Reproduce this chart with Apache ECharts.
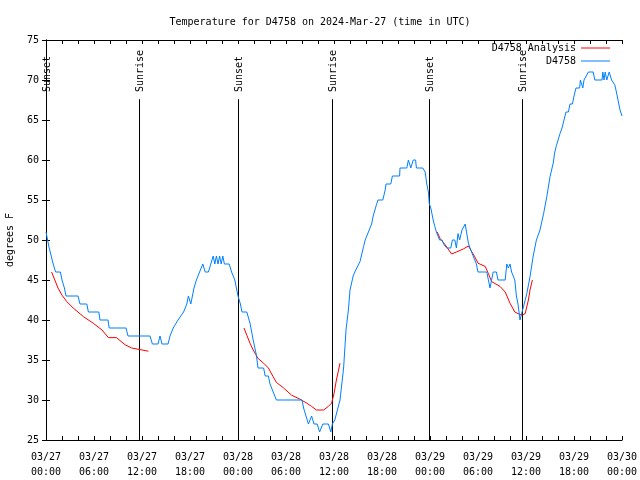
<!DOCTYPE html>
<html>
<head>
<meta charset="utf-8">
<script src="https://cdn.jsdelivr.net/npm/echarts@6/dist/echarts.min.js"></script>
<style>html,body{margin:0;padding:0;background:#fff}#c{width:640px;height:480px}</style>
</head>
<body>
<div id="c"></div>
<script>
// ---- data ----
var xTickLabels = ['03/27\n00:00','03/27\n06:00','03/27\n12:00','03/27\n18:00','03/28\n00:00','03/28\n06:00','03/28\n12:00','03/28\n18:00','03/29\n00:00','03/29\n06:00','03/29\n12:00','03/29\n18:00','03/30\n00:00'];
var eventHours = [0, 11.65, 24.0, 35.7, 47.9, 59.5];
var eventNames = ['Sunset','Sunrise','Sunset','Sunrise','Sunset','Sunrise'];

// D4758 observations: hours since 03/27 00:00 UTC, temperature (F)
var obsHours = [0,0.4,0.9,1.2,1.8,2.0,2.3,2.5,4.0,4.25,5.1,5.3,6.6,6.75,7.75,7.9,10.0,10.25,13.0,13.3,14.0,14.25,14.5,15.25,15.5,15.9,16.5,17.2,17.6,17.8,18.1,18.5,18.8,19.2,19.6,19.9,20.3,20.6,20.9,21.1,21.3,21.5,21.7,21.9,22.1,22.3,22.9,23.2,23.6,23.8,24.0,24.3,24.5,25.1,25.5,25.9,26.3,26.5,27.2,27.4,27.8,28.0,28.4,28.8,32.0,32.2,32.5,32.8,33.0,33.2,33.5,33.9,34.2,34.4,34.6,35.3,35.6,35.8,36.1,36.75,37.2,37.5,37.8,38.0,38.4,38.6,39.25,39.7,39.9,40.3,40.7,40.9,41.3,41.5,42.1,42.4,42.5,43.1,43.3,44.2,44.25,45.1,45.3,45.6,45.9,46.2,46.3,47.1,47.4,47.6,47.8,47.9,48.1,48.4,48.6,48.8,49.2,49.5,49.75,50.1,50.6,50.8,51.1,51.3,51.5,51.7,52.0,52.4,52.6,52.8,53.0,53.4,53.8,54.0,55.1,55.3,55.5,55.7,55.9,56.3,56.5,57.4,57.6,57.8,58.0,58.2,58.6,58.8,59.0,59.25,59.5,59.7,60.1,60.5,60.9,61.3,61.75,62.2,62.6,63.0,63.4,63.6,63.8,64.25,64.5,64.75,65.0,65.3,65.5,65.8,66.0,66.25,66.7,66.8,67.1,67.25,67.5,67.8,68.4,68.6,69.5,69.6,69.75,69.9,70.1,70.4,70.7,71.1,71.3,71.5,71.75,72.0];
var obsTemps = [51,49,47,46,46,45,44,43,43,42,42,41,41,40,40,39,39,38,38,37,37,38,37,37,38,39,40,41,42,43,42,44,45,46,47,46,46,47,48,47,48,47,48,47,48,47,47,46,45,44,43,42,41,41,39.6,37.5,35.6,34,34,33,33,32,31,30,30,29,28,27,27,28,27,27,26,26,27,27,26,27,27.5,30,34,38.75,41.25,43.75,45.5,46,47.3,49.2,50,51,52,53,54.4,55,55,56.25,57,57,58,58,59,59,60,59,60,60,59,59,58.5,57,56,54.6,54,52.5,51.7,51,50,50,49.4,49,49,50,50,49,50.8,50,51.25,52,52,49.6,49,48,47,46,46,45,44,45,46,46,45,45,47,46.5,47,46,45,43,42,40,41,41.7,43.3,45.4,48,50,51.25,53.3,55.4,57.9,59.6,61,61.8,63.3,64,64,66,66,67,67,68,69,69,70,69,70,70,71,71,70,70,71,70,71,70,71,70,69.4,68.5,67.5,66.25,65.5];

// D4758 Analysis (three runs, null = gap)
var anaHours = [0.7,1.1,1.5,2.0,2.6,3.4,4.7,5.9,7.0,7.8,8.8,9.9,10.7,11.75,12.8, 18.0, 24.75,25.1,25.5,25.9,26.5,27.2,27.8,28.4,28.8,29.7,30.7,31.75,32.6,33.2,33.8,34.7,35.3,35.7,36.0,36.3,36.75, 42.0, 48.9,49.25,49.9,50.7,51.3,52.2,52.8,53.0,53.6,54.0,54.9,55.3,55.7,56.75,57.4,58.0,58.6,59.0,59.5,59.9,60.3,60.5,60.8];
var anaTemps = [46,45,44,43.1,42.3,41.5,40.4,39.6,38.75,37.8,37.8,36.9,36.5,36.3,36.1, null, 39,38.1,37.1,36.25,35.2,34.6,34,32.9,32.2,31.5,30.6,30.1,29.6,29.2,28.75,28.75,29.2,29.6,30.8,32.5,34.6, null, 51,50.2,49.4,48.25,48.5,48.9,49.25,49,47.9,47.1,46.7,45.8,44.8,44.2,43.5,42.1,41,40.8,40.6,40.8,42.5,43.75,45];

// ---- chart ----
var FONT = 'DejaVu Sans Mono';
function pairs(xs, ys){ return xs.map(function(x,i){ return [x, ys[i]]; }); }

var chart = echarts.init(document.getElementById('c'), null, {renderer:'canvas'});
var axisCommon = {
  axisLine:{show:true, lineStyle:{color:'#000', width:1}},
  axisTick:{show:true, inside:true, length:4, lineStyle:{color:'#000'}},
  splitLine:{show:false}
};
var option = {
  animation:false,
  backgroundColor:'#fff',
  title:{
    text:'Temperature for D4758 on 2024-Mar-27 (time in UTC)',
    left:'center', top:12,
    textStyle:{fontFamily:FONT, fontSize:10, fontWeight:'normal', color:'#000'}
  },
  legend:[
    {data:['D4758 Analysis'], orient:'vertical', right:30, top:43, padding:0, align:'right', icon:'rect', itemWidth:29, itemHeight:1, itemGap:2,
     textStyle:{fontFamily:FONT, fontSize:10, color:'#000'}},
    {data:['D4758'], orient:'vertical', right:30, top:56, padding:0, align:'right', icon:'rect', itemWidth:29, itemHeight:1, itemGap:2,
     textStyle:{fontFamily:FONT, fontSize:10, color:'#000'}}
  ],
  grid:{left:46, right:18, top:40, bottom:40, containLabel:false, outerBoundsMode:'none'},
  xAxis:[
    Object.assign({type:'value', min:0, max:72, interval:2, position:'bottom',
      axisLabel:{fontFamily:FONT, fontSize:10, color:'#000', margin:10, lineHeight:15, showMinLabel:true, showMaxLabel:true,
        formatter:function(v){ return (v % 6 === 0) ? xTickLabels[v/6] : ''; }}}, axisCommon),
    Object.assign({type:'value', min:0, max:72, interval:2, position:'top', axisLabel:{show:false}}, axisCommon)
  ],
  yAxis:[
    Object.assign({type:'value', min:25, max:75, interval:5, position:'left',
      name:'degrees F', nameLocation:'middle', nameGap:31, nameRotate:90,
      nameTextStyle:{fontFamily:FONT, fontSize:10, color:'#000'},
      axisLabel:{fontFamily:FONT, fontSize:10, color:'#000', margin:7}}, axisCommon),
    Object.assign({type:'value', min:25, max:75, interval:5, position:'right', axisLabel:{show:false}}, axisCommon)
  ],
  series:[
    {
      type:'custom', name:'events', silent:true, clip:false, z:1,
      data: eventHours.map(function(h,i){ return [h, i]; }),
      renderItem:function(params, api){
        var h = api.value(0);
        var idx = api.value(1);
        var p0 = api.coord([h, 25]);
        var p1 = api.coord([h, 67.6]);
        var pt = api.coord([h, 68.5]);
        var x = Math.round(p0[0]) + 0.5;
        return {type:'group', children:[
          {type:'line', shape:{x1:x, y1:p0[1], x2:x, y2:p1[1]}, style:{stroke:'#000', lineWidth:1}},
          {type:'text', x:Math.round(pt[0])+1, y:pt[1], rotation:Math.PI/2,
           style:{text:eventNames[idx], fill:'#000', font:'10px "' + FONT + '"', align:'left', verticalAlign:'middle'}}
        ]};
      }
    },
    {
      type:'line', name:'D4758 Analysis', data:pairs(anaHours, anaTemps), connectNulls:false,
      showSymbol:false, symbol:'none', z:3,
      lineStyle:{color:'#ff0000', width:1}, itemStyle:{color:'#ff0000'}
    },
    {
      type:'line', name:'D4758', data:pairs(obsHours, obsTemps),
      showSymbol:false, symbol:'none', z:4,
      lineStyle:{color:'#0080ff', width:1}, itemStyle:{color:'#0080ff'}
    }
  ]
};
chart.setOption(option);
</script>
</body>
</html>
